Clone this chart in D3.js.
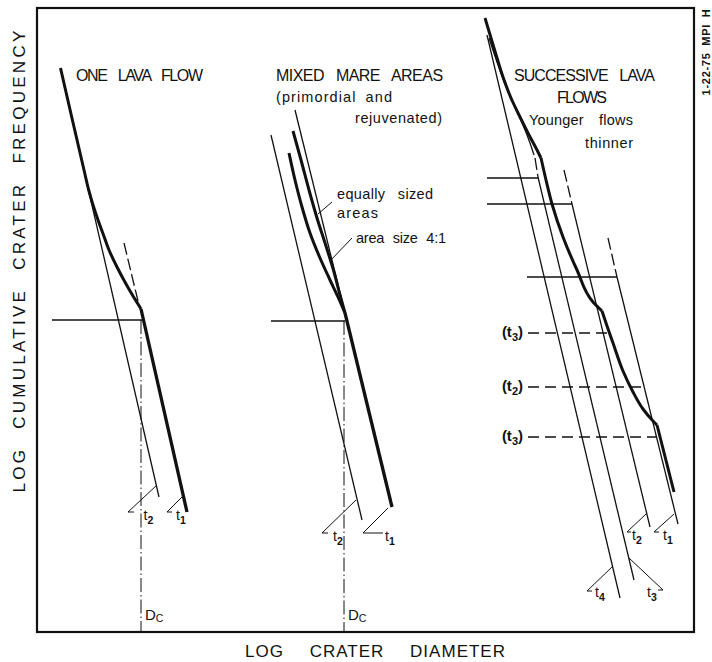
<!DOCTYPE html>
<html><head><meta charset="utf-8">
<script src="https://cdn.jsdelivr.net/npm/d3@7"></script>
<style>body{margin:0;background:#fff}svg{display:block}</style>
</head><body>
<svg id="c" width="712" height="662"></svg>
<script>
// ---- abstract log units ----
const xDomain = [0, 65.7];   // log crater diameter
const yDomain = [0, 62.4];   // log cumulative crater frequency

// Panel 1: ONE LAVA FLOW
const p1_t2Line = [[2.35,56.4],[12.2,13.5]];
const p1_curve  = [[2.35,56.4],[3.54,51.2],[4.7,46.2],[5.17,44.2],[5.6,42.7],[6.1,41.2],[6.65,39.7],[7.2,38.2],[8.0,36.5],[8.85,34.9],[9.6,33.6],[10.1,32.8],[10.4,32.3]];
const p1_t1Line = [[10.4,32.3],[15.0,12.0]];
const p1_t1Ext  = [[8.7,38.9],[10.1,33.1]];
const p1_level  = [[1.5,31.2],[10.5,31.2]];
const p1_Dc     = [[10.4,31.2],[10.4,0]];

// Panel 2: MIXED MARE AREAS
const p2_t2Line = [[23.4,49.7],[32.5,11.2]];
const p2_t1Ext  = [[25.8,52.2],[30.8,31.9]];
const p2_t1Line = [[30.8,31.9],[35.5,12.5]];
const p2_equal  = [[25.6,50.1],[26.4,47.2],[27.2,44.2],[28.0,41.4],[28.9,38.6],[29.7,36.0],[30.3,33.7],[30.8,31.9]];
const p2_area41 = [[25.2,47.9],[25.8,45.2],[26.5,42.5],[27.3,39.9],[28.3,37.4],[29.3,35.2],[30.1,33.5],[30.8,31.9]];
const p2_level  = [[23.4,31.1],[30.8,31.1]];
const p2_Dc     = [[30.7,31.1],[30.7,0]];
const p2_leaders = [[[29.5,43.0],[28.1,41.8]], [[31.5,39.4],[29.3,37.1]]];

// Panel 3: SUCCESSIVE LAVA FLOWS
const p3_t4Line = [[45.0,59.7],[58.3,3.4]];
const p3_t3Line = [[50.1,45.5],[59.7,5.2]];
const p3_t2Line = [[53.5,42.8],[61.3,10.5]];
const p3_t1Line = [[58.0,35.5],[64.1,10.8]];
const p3_exts   = [[[49.8,47.4],[50.1,45.5]], [[52.7,46.2],[53.5,42.8]], [[57.1,39.4],[58.0,35.5]]];
const p3_levels = [[[45.0,45.4],[50.1,45.4]], [[45.0,42.8],[53.5,42.8]], [[49.0,35.5],[58.0,35.5]]];
const p3_thinCurve = [[45.2,59.4],[46.0,57.0],[46.8,54.8],[47.7,52.7],[48.6,50.7],[49.3,48.9],[49.7,47.7]];
const p3_seg1 = [[44.8,61.4],[45.7,58.4],[46.6,55.5],[47.4,53.4],[48.3,51.5],[49.2,49.7],[50.0,48.2],[50.4,47.4]];
const p3_seg2 = [[50.4,47.4],[50.9,45.2],[51.5,42.8],[52.6,39.5],[54.0,36.2],[55.6,33.0],[56.5,32.1]];
const p3_seg3 = [[56.5,32.1],[56.9,30.9],[57.6,28.9],[58.6,26.1],[59.6,24.0],[60.6,22.3],[61.6,21.1],[62.0,20.7]];
const p3_seg4 = [[62.0,20.7],[63.7,14.0]];
const p3_dashLevels = [[[49.1,29.9],[57.6,29.9]], [[49.1,24.5],[60.8,24.5]], [[49.1,19.5],[62.0,19.5]]];
const p3_dashLabels = ["3","2","3"];
const p3_dashLabelPos = [[48.6,29.5],[48.6,24.1],[48.6,19.1]];

// age markers (diagonal end, vertex, tick end) and their subscripts
const markers = [
  [[12.0,14.7],[9.1,12.0],[9.7,12.0]],
  [[14.5,13.5],[13.0,12.0],[13.5,12.0]],
  [[31.9,13.2],[28.5,9.9],[29.1,9.9]],
  [[35.1,12.4],[32.6,9.9],[34.6,9.9]],
  [[57.5,6.5],[55.0,4.1],[55.5,4.1]],
  [[59.2,7.4],[62.6,4.2],[62.1,4.2]],
  [[60.9,11.8],[59.0,10.0],[59.4,10.0]],
  [[63.7,11.8],[61.7,10.0],[62.2,10.0]]
];
const markerSubs = ["2","1","2","1","4","3","2","1"];
const markerLabelPos = [[10.65,11.2],[13.9,11.2],[29.6,9.1],[34.8,9.1],[55.8,3.5],[61.0,3.5],[59.5,9.2],[62.6,9.2]];
const dcLabelPos = [[10.8,1.2],[31.1,1.2]];

// text blocks
const titleTexts = ["ONE LAVA FLOW","MIXED MARE AREAS","SUCCESSIVE LAVA","FLOWS"];
const titlePos = [[3.9,55.1],[23.9,55.1],[47.7,55.1],[52.0,52.9]];
const titleWidths = [127,167,141,50];
const noteTexts = ["(primordial and","rejuvenated)","Younger flows","thinner","equally sized","areas","area size 4:1"];
const notePos = [[23.9,53.0],[31.8,50.9],[49.2,50.7],[54.8,48.4],[30.0,43.3],[30.0,41.4],[31.9,38.9]];
const noteWidths = [116,87,104,48,96,41,90];
const noteGaps = [4,0,11,0,8,0,5];
const xTitle = "LOG CRATER DIAMETER";
const yTitle = "LOG CUMULATIVE CRATER FREQUENCY";
const stamp = "1-22-75 MPI H";

// ---- drawing ----
const svg = d3.select("#c");
const FONT = "'Liberation Sans', Arial, sans-serif";
const xs = d3.scaleLinear().domain(xDomain).range([37, 694]);
const ys = d3.scaleLinear().domain(yDomain).range([632, 8]);
const line = d3.line().x(d=>xs(d[0])).y(d=>ys(d[1]));
const curve = d3.line().x(d=>xs(d[0])).y(d=>ys(d[1])).curve(d3.curveMonotoneY);

// fit text to a width: fixed extra word gap, letter spacing takes the rest
function fit(sel, target, gap){
  const n = sel.node(), w = n.getComputedTextLength(), t = n.textContent;
  const sp = (t.match(/ /g)||[]).length;
  const ws = sp>0 ? gap : 0;
  const ls = (target - w - ws*sp) / Math.max(1, t.length-1);
  sel.attr("letter-spacing", ls.toFixed(2));
  if (sp>0) sel.attr("word-spacing", ws);
}
function path(d, gen, w, dash){
  const p = svg.append("path").attr("d", gen(d)).attr("fill","none").attr("stroke","#111")
    .attr("stroke-width", w).attr("stroke-linejoin","round");
  if (dash) p.attr("stroke-dasharray", dash);
  return p;
}

// frame
svg.append("rect").attr("x", xs(0)).attr("y", ys(yDomain[1]))
  .attr("width", xs(xDomain[1])-xs(0)).attr("height", ys(0)-ys(yDomain[1]))
  .attr("fill","none").attr("stroke","#111").attr("stroke-width",2.2);

// thin solid lines
[p1_t2Line,p1_level,p2_t2Line,p2_t1Ext,p2_level,p3_t4Line,p3_t3Line,p3_t2Line,p3_t1Line,...p3_levels]
  .forEach(d=>path(d,line,1.3));
p2_leaders.forEach(d=>path(d,line,1));
path(p3_thinCurve,curve,1.3);
markers.forEach(d=>path(d,line,1));

// dashed
path(p1_t1Ext,line,1.3,"12,4");
p3_exts.forEach(d=>path(d,line,1.3,"12,4"));
p3_dashLevels.forEach(d=>path(d,line,1.3,"11,6"));
[p1_Dc,p2_Dc].forEach(d=>path(d,line,1,"14,3,1.5,3"));

// thick
path(p1_curve,curve,3); path(p1_t1Line,line,3.3);
path(p2_equal,curve,3); path(p2_area41,curve,3); path(p2_t1Line,line,3.3);
[p3_seg1,p3_seg2,p3_seg3].forEach(d=>path(d,curve,3)); path(p3_seg4,line,3);

// texts
titleTexts.forEach((t,i)=>{
  const s = svg.append("text").attr("x",xs(titlePos[i][0])).attr("y",ys(titlePos[i][1]))
    .attr("font-family",FONT).attr("font-size",16).attr("fill","#111").text(t);
  fit(s,titleWidths[i],8);
});
noteTexts.forEach((t,i)=>{
  const s = svg.append("text").attr("x",xs(notePos[i][0])).attr("y",ys(notePos[i][1]))
    .attr("font-family",FONT).attr("font-size",14.5).attr("fill","#111").text(t);
  fit(s,noteWidths[i],noteGaps[i]);
});
markerSubs.forEach((s,i)=>{
  const t = svg.append("text").attr("x",xs(markerLabelPos[i][0])).attr("y",ys(markerLabelPos[i][1]))
    .attr("font-family",FONT).attr("font-size",14).attr("fill","#111");
  t.append("tspan").text("t");
  t.append("tspan").attr("font-size",10.5).attr("font-weight","bold").attr("dy",4).text(s);
});
p3_dashLabels.forEach((s,i)=>{
  const t = svg.append("text").attr("x",xs(p3_dashLabelPos[i][0])).attr("y",ys(p3_dashLabelPos[i][1]))
    .attr("text-anchor","end").attr("font-family",FONT).attr("font-size",15).attr("font-weight","bold").attr("fill","#111");
  t.append("tspan").text("(t");
  t.append("tspan").attr("font-size",11).attr("dy",4).text(s);
  t.append("tspan").attr("dy",-4).text(")");
});
dcLabelPos.forEach(p=>{
  const t = svg.append("text").attr("x",xs(p[0])).attr("y",ys(p[1]))
    .attr("font-family",FONT).attr("font-size",15).attr("fill","#111");
  t.append("tspan").text("D");
  t.append("tspan").attr("font-size",10.5).attr("dy",2).text("C");
});
// axis titles
const xt = svg.append("text").attr("x",245).attr("y",657).attr("font-family",FONT)
  .attr("font-size",17).attr("fill","#111").text(xTitle);
fit(xt,260,20);
const yt = svg.append("text").attr("transform","translate(25,260) rotate(-90)").attr("text-anchor","middle")
  .attr("font-family",FONT).attr("font-size",17).attr("fill","#111").text(yTitle);
fit(yt,462,10);
const st = svg.append("text").attr("transform","translate(710,52) rotate(-90)").attr("text-anchor","middle")
  .attr("font-family",FONT).attr("font-size",11).attr("font-weight","bold").attr("fill","#111").text(stamp);
fit(st,86,3);
</script>
</body></html>
